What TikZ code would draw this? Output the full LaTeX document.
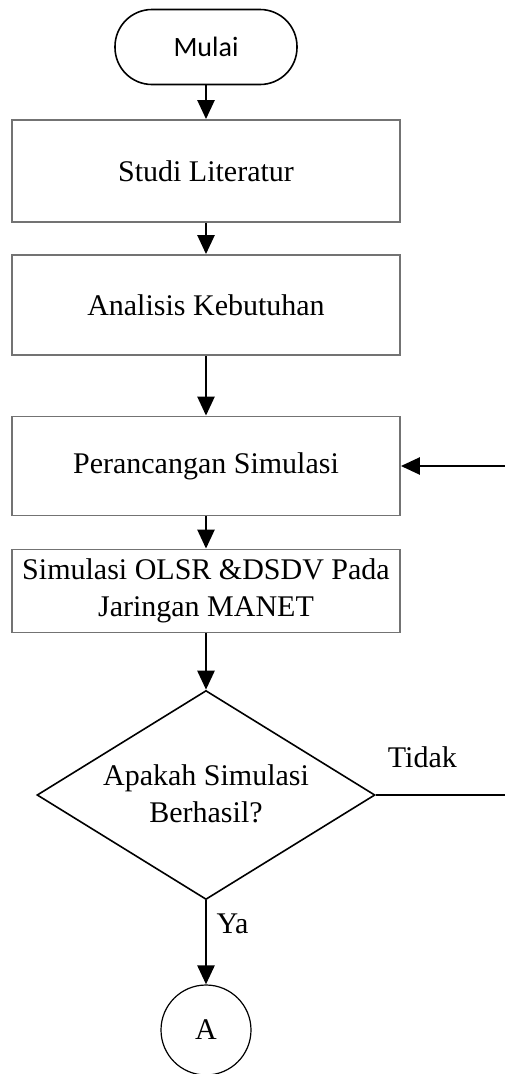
\documentclass[tikz,border=0pt]{standalone}
\usepackage{fontspec}
\setmainfont{Liberation Serif}
\newfontfamily\calib{Carlito}
\usetikzlibrary{shapes.geometric,arrows.meta}
\begin{document}
\begin{tikzpicture}[x=1pt,y=-1pt,
  proc/.style={draw=black!55,line width=1.8pt,minimum width=388pt,inner sep=0pt,align=center,font=\fontsize{30}{37}\selectfont},
  arr/.style={line width=2.5pt,-{Triangle[length=19pt,width=17pt]}},
  lbl/.style={font=\fontsize{30}{36}\selectfont}]
\useasboundingbox (0,0) rectangle (505,1074);
\node[draw,line width=1.6pt,rounded corners=37pt,minimum width=182pt,minimum height=75pt,font=\calib\fontsize{28}{32}\selectfont] (mulai) at (206,47) {Mulai};
\node[proc,minimum height=102pt] (studi) at (206,171) {Studi Literatur};
\node[proc,minimum height=100pt] (anal) at (206,305) {Analisis Kebutuhan};
\node[proc,minimum height=99pt] (peran) at (206,466) {Perancangan Simulasi};
\node[proc,minimum height=83pt] (simul) at (206,591) {Simulasi OLSR \&DSDV Pada\\Jaringan MANET};
\node[draw,diamond,line width=1.6pt,minimum width=338pt,minimum height=209pt,inner sep=0pt] (dec) at (206,795) {};
\node[align=center,font=\fontsize{30}{37}\selectfont] (dectext) at (206,794) {Apakah Simulasi\\Berhasil?};
\node[draw,circle,line width=1.2pt,minimum size=90pt,inner sep=0pt,font=\fontsize{30}{36}\selectfont] (A) at (206,1030) {A};
\coordinate (r1) at (509,795);
\coordinate (r2) at (509,466);
\draw[arr] (mulai) -- (studi);
\draw[arr] (studi) -- (anal);
\draw[arr] (anal) -- (peran);
\draw[arr] (peran) -- (simul);
\draw[arr] (simul) -- (dec);
\draw[arr] (dec) -- node[lbl,right,xshift=6pt,pos=0.28] {Ya} (A);
\draw[arr] (dec.east) -- node[lbl,above,yshift=23pt,pos=0.35] {Tidak} (r1) -- (r2) -- (peran.east);
\end{tikzpicture}
\end{document}
